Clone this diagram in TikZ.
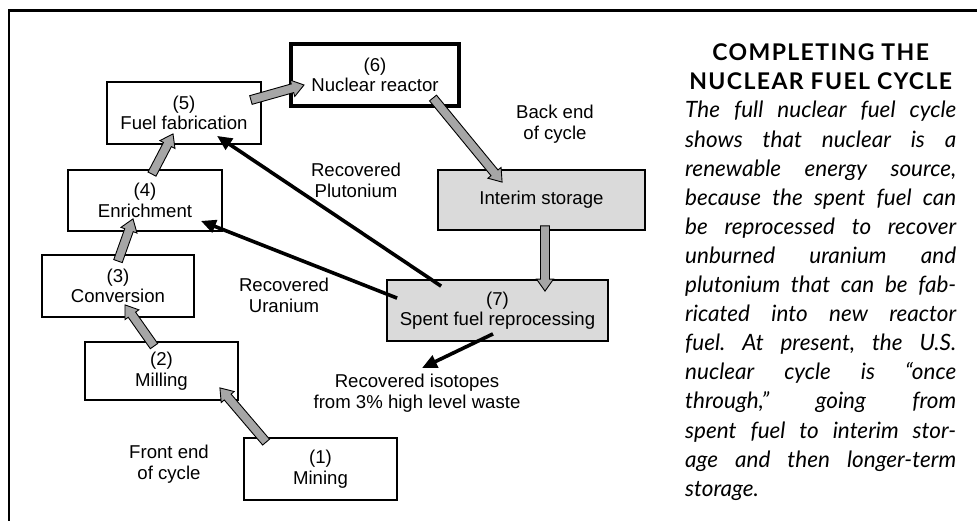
\documentclass[tikz,border=0pt]{standalone}
\usepackage{fontspec}
\setmainfont{Liberation Sans}
\newfontfamily\colfont{Lato}
\newfontfamily\titlefont{Lato}[LetterSpace=6]
\usetikzlibrary{calc,arrows.meta}
\newlength\colw
\setlength\colw{271pt}
\newcommand\g{\hspace{0.12em plus 1fill}}
\newcommand\jl[1]{\hbox to\colw{#1}}
\newcommand\cl[1]{\hbox to\colw{\hss#1\hss}}
\newcommand\fatarrow[2]{%
  \coordinate (fab) at ($(#2)!12pt!(#1)$);
  \filldraw[fatarr] ($(#1)!4.5pt!90:(#2)$) -- ($(fab)!4.5pt!90:(#2)$) -- ($(fab)!8.5pt!90:(#2)$) -- (#2)
    -- ($(fab)!8.5pt!-90:(#2)$) -- ($(fab)!4.5pt!-90:(#2)$) -- ($(#1)!4.5pt!-90:(#2)$) -- cycle;}
\definecolor{boxgray}{HTML}{DADADA}
\definecolor{arrgray}{HTML}{A6A6A6}
\begin{document}
\begin{tikzpicture}[x=1pt,y=-1pt,
  box/.style={draw=black, line width=1.8pt, rectangle, align=center, inner sep=0pt,
    font=\fontsize{18.6}{20.5}\selectfont},
  lbl/.style={align=center, inner sep=0pt, font=\fontsize{18.6}{21}\selectfont},
  fatarr/.style={fill=arrgray, draw=black, line width=0.9pt, line join=miter},
  blk/.style={draw=black, line width=3.6pt, -{Triangle[length=15pt,width=13pt]}},
  frame/.style={draw=black, line width=2.2pt}]
\useasboundingbox (0,0) rectangle (977,521);
\fill[white] (0,0) rectangle (977,521);
% frame
\coordinate (ftl) at (9,10.5);
\coordinate (ftr) at (977,10.5);
\coordinate (fbl) at (9,521);
\draw[frame] (ftr) -- (ftl) -- (fbl);
% boxes
\node[box, minimum width=153pt, minimum height=62pt] (b1) at (320.5,469) {(1)\\Mining};
\node[box, minimum width=153pt, minimum height=58pt] (b2) at (161.5,371) {(2)\\Milling};
\node[box, minimum width=152pt, minimum height=62pt] (b3) at (118,286) {(3)\\Conversion};
\node[box, minimum width=154pt, minimum height=61pt] (b4) at (145,200.5) {(4)\\Enrichment};
\node[box, minimum width=154pt, minimum height=62pt] (b5) at (184,113) {(5)\\Fuel fabrication};
\node[box, line width=4pt, minimum width=168pt, minimum height=62pt] (b6) at (375,75) {(6)\\Nuclear reactor};
\node[box, fill=boxgray, minimum width=207pt, minimum height=60pt] (st) at (541.5,200) {Interim storage};
\node[box, fill=boxgray, minimum width=221pt, minimum height=61pt] (b7) at (497.5,310.5) {(7)\\Spent fuel reprocessing};
% labels
\node[lbl] (back) at (555,124) {Back end\\of cycle};
\node[lbl] (front) at (169,464) {Front end\\of cycle};
\node[lbl] (plu) at (356,180) {Recovered\\Plutonium};
\node[lbl] (ura) at (284,295) {Recovered\\Uranium};
\node[lbl] (iso) at (417,393.5) {Recovered isotopes\\from 3\% high level waste};
% gray block arrows
\coordinate (t1) at ($(b1.north west)+(23,5)$);
\coordinate (h1) at ($(b2.south east)+(-19,-13)$);
\coordinate (t2) at ($(b2.north)+(-7.5,5)$);
\coordinate (h2) at ($(b3.south)+(7,-13)$);
\coordinate (t3) at ($(b3.north)+(0,7)$);
\coordinate (h3) at ($(b4.south)+(-12,-13)$);
\coordinate (t4) at ($(b4.north)+(7,5)$);
\coordinate (h4) at ($(b5.south)+(-11,-11)$);
\coordinate (t5) at ($(b5.east)+(-11,-13)$);
\coordinate (h5) at ($(b6.west)+(15,10)$);
\coordinate (t6) at ($(b6.south east)+(-28,-10)$);
\coordinate (h6) at ($(st.north west)+(65,13)$);
\coordinate (t7) at ($(st.south)+(3.5,-5)$);
\coordinate (h7) at ($(b7.north)+(47.5,12)$);
\fatarrow{t1}{h1}
\fatarrow{t2}{h2}
\fatarrow{t3}{h3}
\fatarrow{t4}{h4}
\fatarrow{t5}{h5}
\fatarrow{t6}{h6}
\fatarrow{t7}{h7}
% black arrows
\coordinate (isotip) at (422,368);
\draw[blk] ($(b7.north west)+(55,7)$) -- ($(b5.south)+(33,-9)$);
\draw[blk] ($(b7.north west)+(11,19)$) -- ($(b4.south east)+(-22,-11)$);
\draw[blk] ($(b7.south)+(-4.5,-8)$) -- (isotip);
% right column
\node[anchor=base west, inner sep=0pt] (title) at (685,60.5) {\begin{minipage}[t]{\colw}%
  \titlefont\bfseries\fontsize{23}{29}\selectfont
  \cl{COMPLETING THE}
  \cl{NUCLEAR FUEL CYCLE}\end{minipage}};
\node[anchor=base west, inner sep=0pt] (body) at (685,118) {\begin{minipage}[t]{\colw}%
  \colfont\itshape\fontsize{22.5}{29.1}\selectfont
  \jl{The\g full\g nuclear\g fuel\g cycle}
  \jl{shows\g that\g nuclear\g is\g a}
  \jl{renewable\g energy\g source,}
  \jl{because\g the\g spent\g fuel\g can}
  \jl{be\g reprocessed\g to\g recover}
  \jl{unburned\g uranium\g and}
  \jl{plutonium\g that\g can\g be\g fab-}
  \jl{ricated\g into\g new\g reactor}
  \jl{fuel.\g At\g present,\g the\g U.S.}
  \jl{nuclear\g cycle\g is\g “once}
  \jl{through,”\g going\g from}
  \jl{spent\g fuel\g to\g interim\g stor-}
  \jl{age\g and\g then\g longer-term}
  \jl{storage.\hfill}
\end{minipage}};
\end{tikzpicture}
\end{document}
